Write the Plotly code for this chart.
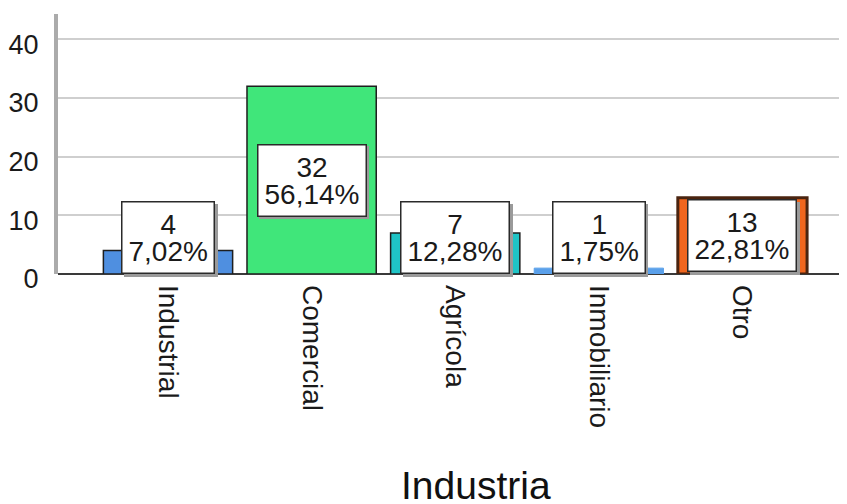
import plotly.graph_objects as go

categories = ["Industrial", "Comercial", "Agrícola", "Inmobiliario", "Otro"]
counts = [4, 32, 7, 1, 13]
pct_labels = ["7,02%", "56,14%", "12,28%", "1,75%", "22,81%"]
bar_colors = ["#4f8fe0", "#40e67a", "#1fc4c6", "#5aa0ea", "#f0661e"]
edge_colors = ["#1e1e1e", "#1e1e1e", "#1e1e1e", "#5aa0ea", "#4a2410"]
edge_widths = [1.5, 1.5, 1.5, 1, 3]
y_ticks = [0, 10, 20, 30, 40]

FONT = "Liberation Sans, Arial, sans-serif"

fig = go.Figure()
fig.add_trace(go.Bar(
    x=list(range(len(categories))),
    y=counts,
    width=0.9,
    marker=dict(color=bar_colors, line=dict(color=edge_colors, width=edge_widths)),
    hoverinfo="skip",
))

half_box = 6.45
for i, (v, p) in enumerate(zip(counts, pct_labels)):
    if v / 2 >= half_box:
        yy, ya = v / 2, "middle"
    else:
        yy, ya = 0, "bottom"
    txt = f"<span style='font-size:28px'>{v}<br>{p}</span>"
    common = dict(x=i, y=yy, xref="x", yref="y", yanchor=ya, xanchor="center",
                  showarrow=False, text=txt, borderpad=6, borderwidth=1.5,
                  font=dict(family=FONT, size=21))
    fig.add_annotation(**common, xshift=2.5, yshift=-2.5, bgcolor="#9a9a9a",
                       bordercolor="#9a9a9a")
    common["font"] = dict(family=FONT, size=21, color="#1a1a1a")
    fig.add_annotation(**common, bgcolor="white", bordercolor="#2a2a2a")

fig.add_annotation(x=0.53, y=0, xref="paper", yref="paper", yanchor="top",
                   yshift=-188, showarrow=False, text="Industria",
                   font=dict(family=FONT, size=39, color="#111111"))

# the page body adds an 8px offset; margins compensate for it
fig.update_layout(
    width=847, height=504,
    margin=dict(l=50, r=8, t=6, b=238, autoexpand=False),
    paper_bgcolor="white", plot_bgcolor="white",
    showlegend=False, bargap=0.1,
    font=dict(family=FONT, color="#1a1a1a"),
)
fig.update_xaxes(
    range=[-0.766, 4.728],
    tickvals=list(range(len(categories))), ticktext=categories,
    tickangle=90, tickfont=dict(family=FONT, size=28, color="#1a1a1a"),
    showgrid=False, zeroline=False, automargin=False,
    showline=False, ticks="", ticklabelstandoff=10,
)
fig.update_yaxes(
    range=[0, 44.3], tickvals=y_ticks, automargin=False,
    tickfont=dict(family=FONT, size=27, color="#1a1a1a"),
    showgrid=True, gridcolor="#cfcfcf", gridwidth=2,
    zeroline=True, zerolinecolor="#3a3a3a", zerolinewidth=2,
    showline=True, linecolor="#ababab", linewidth=4,
    ticks="", ticklabelstandoff=10, ticklabelshift=5,
)

fig.write_html("out.html")
